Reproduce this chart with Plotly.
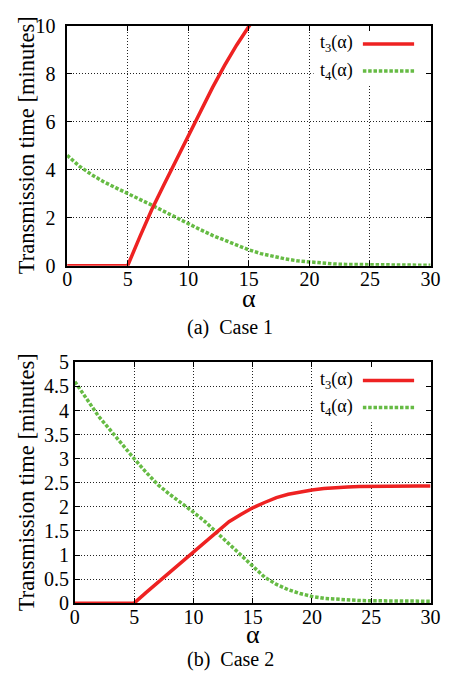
import plotly.graph_objects as go

# ---- data ----
alpha_t3_c1 = [0, 5, 6, 7, 8, 9, 10, 11, 12, 13, 14, 15, 16]
t3_c1 = [0, 0, 1.2, 2.35, 3.38, 4.4, 5.4, 6.42, 7.42, 8.35, 9.2, 9.97, 10.7]

alpha_t4 = [0, 1, 2, 3, 4, 5, 6, 7, 8, 9, 10, 11, 12, 13, 14, 15, 16, 17, 18, 19, 20,
            21, 22, 23, 24, 25, 26, 27, 28, 29, 30]
t4_c1 = [4.6, 4.15, 3.8, 3.5, 3.25, 3.02, 2.77, 2.52, 2.26, 2.0, 1.75, 1.5, 1.26, 1.05,
         0.85, 0.66, 0.5, 0.38, 0.28, 0.2, 0.15, 0.1, 0.07, 0.05, 0.04, 0.03, 0.025,
         0.022, 0.02, 0.02, 0.02]

alpha_t3_c2 = [0, 5, 6, 7, 8, 9, 10, 11, 12, 13, 14, 15, 16, 17, 18, 19, 20, 21, 22,
               23, 24, 25, 26, 27, 28, 29, 30]
t3_c2 = [0, 0, 0.22, 0.43, 0.64, 0.85, 1.07, 1.29, 1.5, 1.69, 1.84, 1.98, 2.09, 2.19,
         2.26, 2.31, 2.35, 2.38, 2.40, 2.41, 2.42, 2.425, 2.428, 2.43, 2.43, 2.43, 2.43]
t4_c2 = [4.6, 4.23, 3.88, 3.59, 3.29, 3.0, 2.72, 2.46, 2.26, 2.08, 1.89, 1.69, 1.46, 1.22,
         0.98, 0.75, 0.54, 0.39, 0.28, 0.2, 0.14, 0.1, 0.08, 0.065, 0.055, 0.05, 0.047,
         0.045, 0.043, 0.041, 0.04]

x_ticks = [0, 5, 10, 15, 20, 25, 30]
y_ticks_c1 = [0, 2, 4, 6, 8, 10]
y_ticks_c2 = [0, 0.5, 1, 1.5, 2, 2.5, 3, 3.5, 4, 4.5, 5]
legend_labels = ["t<sub>3</sub>(α)", "t<sub>4</sub>(α)"]
captions = ["(a)  Case 1", "(b)  Case 2"]
y_title = "Transmission time [minutes]"
x_title = "α"

RED = "#EE2222"
GREEN = "#66BB44"
GREEN_DASH = "3.5px,1.8px"
FONT = "Liberation Serif"

# The page body keeps its default 8px margin, so the figure is drawn 8px in
# from the window's top-left corner; all pixel positions below are in figure px.
OFF = 8
W, H = 456 - OFF, 686 - 2 * OFF

# plot areas in window pixels (left, right, top, bottom), shifted to figure px
areas_win = [(64, 440, 15, 263), (72, 440, 363, 612)]
areas = [(a[0] - OFF, a[1] - OFF, a[2] - OFF, a[3] - OFF) for a in areas_win]
y_range = [[0, 10], [0, 5]]
x_range = [0, 30]
xtitle_gap = [34, 32]      # px below plot bottom
caption_gap = [63.5, 58]   # px below plot bottom

fig = go.Figure()

series = [
    (alpha_t3_c1, t3_c1, alpha_t4, t4_c1),
    (alpha_t3_c2, t3_c2, alpha_t4, t4_c2),
]

for i, (xa, ya, xb, yb) in enumerate(series):
    xr = "x" if i == 0 else "x2"
    yr = "y" if i == 0 else "y2"
    fig.add_trace(go.Scatter(x=xb, y=yb, mode="lines", xaxis=xr, yaxis=yr,
                             line=dict(color=GREEN, width=3.5, dash=GREEN_DASH),
                             showlegend=False, hoverinfo="skip"))
    fig.add_trace(go.Scatter(x=xa, y=ya, mode="lines", xaxis=xr, yaxis=yr,
                             line=dict(color=RED, width=3.5),
                             showlegend=False, hoverinfo="skip"))

def xdom(a):
    return [a[0] / W, a[1] / W]

def ydom(a):
    return [1 - a[3] / H, 1 - a[2] / H]

axis_common = dict(
    showline=True, linecolor="black", linewidth=1.5, mirror="ticks",
    ticks="inside", ticklen=5, tickwidth=1.2, tickcolor="black",
    showgrid=True, gridcolor="#222", gridwidth=1, griddash="1px,2px",
    zeroline=False, tickfont=dict(family=FONT, size=20, color="black"),
)

layout = dict(
    width=W, height=H, autosize=False,
    margin=dict(l=0, r=0, t=0, b=0),
    paper_bgcolor="white", plot_bgcolor="white",
    showlegend=False,
    xaxis=dict(domain=xdom(areas[0]), range=x_range, tickvals=x_ticks,
               anchor="y", ticklabelstandoff=-5, **axis_common),
    yaxis=dict(domain=ydom(areas[0]), range=y_range[0], tickvals=y_ticks_c1,
               anchor="x", ticklabelstandoff=6, **axis_common),
    xaxis2=dict(domain=xdom(areas[1]), range=x_range, tickvals=x_ticks,
                anchor="y2", ticklabelstandoff=-5, **axis_common),
    yaxis2=dict(domain=ydom(areas[1]), range=y_range[1], tickvals=y_ticks_c2,
                anchor="x2", ticklabelstandoff=0, **axis_common),
)
fig.update_layout(**layout)

annotations = []
shapes = []
for i, a in enumerate(areas):
    xr = "x" if i == 0 else "x2"
    yr = "y" if i == 0 else "y2"
    pw = a[1] - a[0]
    ph = a[3] - a[2]
    cx = (a[0] + a[1]) / 2 / W
    cy = 1 - (a[2] + a[3]) / 2 / H

    def px2x(px):
        return x_range[0] + (px - OFF - a[0]) / pw * (x_range[1] - x_range[0])

    def py2y(py):
        r = y_range[i]
        return r[0] + (a[3] - (py - OFF)) / ph * (r[1] - r[0])

    # y title
    annotations.append(dict(text=y_title, x=(22 - OFF) / W, y=cy, xref="paper", yref="paper",
                            textangle=-90, showarrow=False, xanchor="center", yanchor="middle",
                            font=dict(family=FONT, size=22.5, color="black")))
    # x title
    annotations.append(dict(text=x_title, x=cx, y=1 - (a[3] + xtitle_gap[i]) / H,
                            xref="paper", yref="paper",
                            showarrow=False, xanchor="center", yanchor="middle",
                            font=dict(family=FONT, size=26, color="black")))
    # caption
    annotations.append(dict(text=captions[i], x=(233 - OFF) / W,
                            y=1 - (a[3] + caption_gap[i]) / H,
                            xref="paper", yref="paper", showarrow=False,
                            xanchor="center", yanchor="middle",
                            font=dict(family=FONT, size=20, color="black")))
    # legend box (white, hides the grid)
    top_win = areas_win[i][2]
    shapes.append(dict(type="rect", xref=xr, yref=yr,
                       x0=px2x(319), x1=x_range[1], y0=py2y(top_win + 62), y1=y_range[i][1],
                       fillcolor="white", line=dict(width=0), layer="between"))
    for j, lab in enumerate(legend_labels):
        ypx = top_win + 18.8 + 28 * j
        annotations.append(dict(text=lab, x=px2x(362), y=py2y(ypx),
                                xref=xr, yref=yr,
                                showarrow=False, xanchor="right", yanchor="middle",
                                font=dict(family=FONT, size=18, color="black")))
        shapes.append(dict(type="line", xref=xr, yref=yr,
                           x0=px2x(370), x1=px2x(423), y0=py2y(ypx), y1=py2y(ypx),
                           line=dict(color=RED if j == 0 else GREEN, width=3.5,
                                     dash="solid" if j == 0 else GREEN_DASH),
                           layer="above"))

fig.update_layout(annotations=annotations, shapes=shapes)
fig.write_html("out.html", config={"displayModeBar": False, "responsive": False})
